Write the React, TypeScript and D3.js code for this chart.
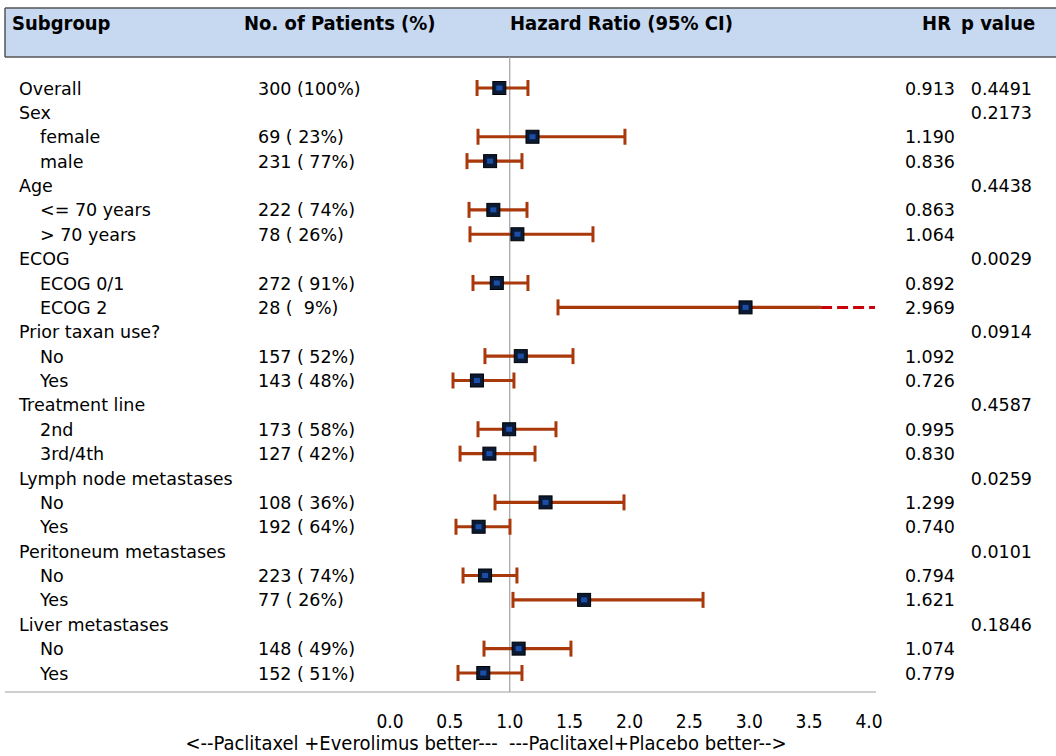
import React from "react";
import * as d3 from "d3";

// rows of the forest plot, top to bottom
const labels = [
  "Overall", "Sex", "female", "male", "Age", "<= 70 years", "> 70 years",
  "ECOG", "ECOG 0/1", "ECOG 2", "Prior taxan use?", "No", "Yes",
  "Treatment line", "2nd", "3rd/4th", "Lymph node metastases", "No", "Yes",
  "Peritoneum metastases", "No", "Yes", "Liver metastases", "No", "Yes",
];
const indent = [0, 0, 1, 1, 0, 1, 1, 0, 1, 1, 0, 1, 1, 0, 1, 1, 0, 1, 1, 0, 1, 1, 0, 1, 1];
const patients = [
  "300 (100%)", "", "69 ( 23%)", "231 ( 77%)", "", "222 ( 74%)", "78 ( 26%)",
  "", "272 ( 91%)", "28 (  9%)", "", "157 ( 52%)", "143 ( 48%)",
  "", "173 ( 58%)", "127 ( 42%)", "", "108 ( 36%)", "192 ( 64%)",
  "", "223 ( 74%)", "77 ( 26%)", "", "148 ( 49%)", "152 ( 51%)",
];
const hr: (number | null)[] = [
  0.913, null, 1.19, 0.836, null, 0.863, 1.064, null, 0.892, 2.969, null, 1.092, 0.726,
  null, 0.995, 0.83, null, 1.299, 0.74, null, 0.794, 1.621, null, 1.074, 0.779,
];
const lower: (number | null)[] = [
  0.727, null, 0.735, 0.643, null, 0.66, 0.668, null, 0.693, 1.403, null, 0.793, 0.526,
  null, 0.735, 0.585, null, 0.877, 0.551, null, 0.61, 1.027, null, 0.785, 0.568,
];
const upper: (number | null)[] = [
  1.152, null, 1.962, 1.102, null, 1.144, 1.695, null, 1.152, 6.3, null, 1.528, 1.035,
  null, 1.386, 1.211, null, 1.954, 1.002, null, 1.06, 2.614, null, 1.511, 1.102,
];
const pvalues = [
  "0.4491", "0.2173", "", "", "0.4438", "", "", "0.0029", "", "", "0.0914", "", "",
  "0.4587", "", "", "0.0259", "", "", "0.0101", "", "", "0.1846", "", "",
];
const ticks = [0, 0.5, 1, 1.5, 2, 2.5, 3, 3.5, 4];

const W = 1056;
const H = 756;
const font = "'DejaVu Sans', Verdana, sans-serif";
const condensed = "'DejaVu Sans Condensed', 'Liberation Sans Narrow', sans-serif";
const lineColor = "#a9380b";

export default function App() {
  const x = d3.scaleLinear().domain([0, 4]).range([390, 869]);
  const y = d3.scaleLinear().domain([0, labels.length - 1]).range([88, 673]);
  const solidMax = 3.6;
  const axisEnd = 4.05;

  return (
    <div style={{ position: "absolute", left: 0, top: 0, background: "#fff" }}>
      <svg width={W} height={H} style={{ display: "block" }}>
        {/* header band */}
        <rect x={5} y={8} width={W} height={49} fill="#c6d9f1" />
        <line x1={5} x2={W} y1={8} y2={8} stroke="#555" strokeWidth={1.5} />
        <line x1={5} x2={W} y1={57} y2={57} stroke="#555" strokeWidth={1.5} />
        <line x1={5} x2={5} y1={8} y2={57} stroke="#555" strokeWidth={1.5} />
        <g fontFamily={condensed} fontWeight="bold" fontSize={20} fill="#000">
          <text x={12} y={30}>Subgroup</text>
          <text x={244} y={30}>No. of Patients (%)</text>
          <text x={510} y={30}>Hazard Ratio (95% CI)</text>
          <text x={951} y={30} textAnchor="end">HR</text>
          <text x={961} y={30}>p value</text>
        </g>

        {/* reference line at HR = 1 and bottom rule */}
        <line x1={x(1)} x2={x(1)} y1={57} y2={692} stroke="#a0a0a0" strokeWidth={1.2} />
        <line x1={5} x2={876} y1={692} y2={692} stroke="#a0a0a0" strokeWidth={1.2} />

        {/* rows */}
        <g fontFamily={font} fontSize={17.5} fill="#000">
          {labels.map((l, i) => (
            <g key={i}>
              <text x={indent[i] ? 40 : 19} y={y(i) + 6.5}>{l}</text>
              {patients[i] && (
                <text x={258} y={y(i) + 6.5} style={{ whiteSpace: "pre" }}>{patients[i]}</text>
              )}
              {hr[i] !== null && (
                <text x={955} y={y(i) + 6.5} textAnchor="end">{hr[i]!.toFixed(3)}</text>
              )}
              {pvalues[i] && (
                <text x={1032} y={y(i) + 6.5} textAnchor="end">{pvalues[i]}</text>
              )}
            </g>
          ))}
        </g>

        {/* confidence intervals */}
        {hr.map((h, i) => {
          if (h === null) return null;
          const lo = lower[i]!;
          const up = upper[i]!;
          const cy = y(i);
          const clipped = up > solidMax;
          const solidEnd = clipped ? solidMax : up;
          return (
            <g key={"ci" + i}>
              <line x1={x(lo)} x2={x(solidEnd)} y1={cy} y2={cy} stroke={lineColor} strokeWidth={3.2} />
              <line x1={x(lo)} x2={x(lo)} y1={cy - 8} y2={cy + 8} stroke={lineColor} strokeWidth={3} />
              {clipped ? (
                <line x1={x(solidMax)} x2={x(axisEnd)} y1={cy} y2={cy} stroke="#c8000a"
                  strokeWidth={3} strokeDasharray="11,5" />
              ) : (
                <line x1={x(up)} x2={x(up)} y1={cy - 8} y2={cy + 8} stroke={lineColor} strokeWidth={3} />
              )}
              <rect x={x(h) - 6.5} y={cy - 6.5} width={13} height={13} fill="#0a1a35" stroke="#000" strokeWidth={1} />
              <rect x={x(h) - 3} y={cy - 2.5} width={6} height={5} fill="#1c4ea8" />
            </g>
          );
        })}

        {/* axis ticks */}
        <g fontFamily={condensed} fontSize={19} fill="#000">
          {ticks.map((t) => (
            <text key={t} x={x(t)} y={728} textAnchor="middle">{t.toFixed(1)}</text>
          ))}
          <text x={486} y={750} fontSize={20} textAnchor="middle" style={{ whiteSpace: "pre" }}>
            {"<--Paclitaxel +Everolimus better---  ---Paclitaxel+Placebo better-->"}
          </text>
        </g>
      </svg>
    </div>
  );
}
